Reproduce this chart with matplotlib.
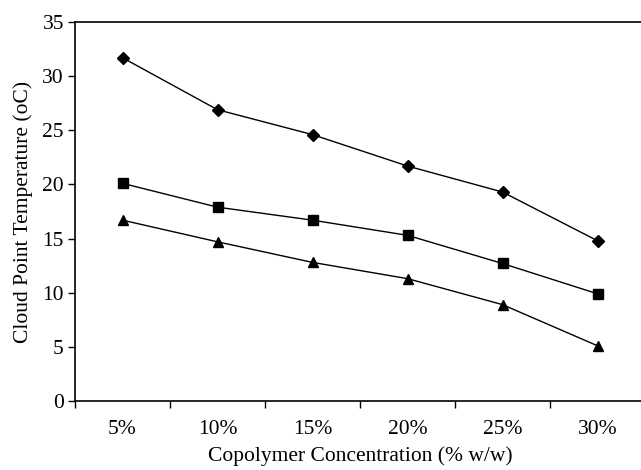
import numpy as np
import matplotlib
matplotlib.use("Agg")
import matplotlib.pyplot as plt

plt.rcParams["font.family"] = ["Liberation Serif", "DejaVu Serif"]

# dane
stezenia = ["5%", "10%", "15%", "20%", "25%", "30%"]
seria_romb = [31.7, 26.9, 24.6, 21.7, 19.3, 14.8]
seria_kwadrat = [20.1, 17.9, 16.7, 15.3, 12.7, 9.9]
seria_trojkat = [16.7, 14.7, 12.8, 11.3, 8.9, 5.1]

fig = plt.figure(figsize=(6.41, 4.70), dpi=100)
ax = fig.add_axes([75 / 641, 69 / 470, 570 / 641, 379 / 470])

x = np.arange(len(stezenia))
ax.plot(x, seria_romb, color="black", lw=1, marker="D", ms=6)
ax.plot(x, seria_kwadrat, color="black", lw=1, marker="s", ms=6.5)
ax.plot(x, seria_trojkat, color="black", lw=1, marker="^", ms=7.5)

ax.set_xlim(-0.5, len(stezenia) - 0.5)
ax.set_ylim(0, 35)
ax.set_yticks(range(0, 36, 5))
ax.set_xticks(x)
ax.set_xticklabels(stezenia)
ax.set_xticks(np.arange(-0.5, len(stezenia), 1.0), minor=True)
ax.tick_params(axis="x", which="major", length=0, labelsize=15.5, pad=14)
ax.tick_params(axis="x", which="minor", length=5, width=1, direction="out")
ax.tick_params(axis="y", length=5, width=1, direction="out", labelsize=15.5, pad=3)

ax.spines["right"].set_visible(False)
for s in ["left", "bottom", "top"]:
    ax.spines[s].set_linewidth(1.2)

ax.set_xlabel("Copolymer Concentration (% w/w)", fontsize=15.5, labelpad=5)
ax.set_ylabel("Cloud Point Temperature (oC)", fontsize=15.5, labelpad=7)

fig.savefig("out.png", dpi=100)
